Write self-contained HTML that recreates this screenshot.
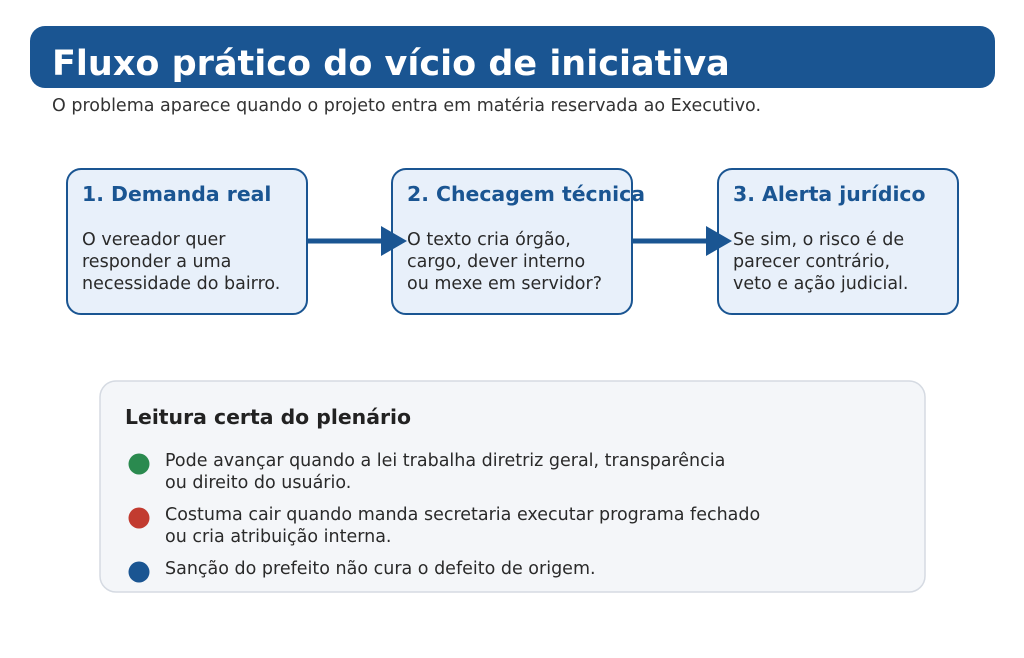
<!DOCTYPE html>
<html><head><meta charset="utf-8"><style>body{margin:0;background:#fff}svg{display:block}</style></head>
<body>
<svg width="1024" height="658" viewBox="0 0 1024 658" xmlns="http://www.w3.org/2000/svg" font-family="'DejaVu Sans','Liberation Sans',sans-serif">
<rect x="30" y="26" width="965" height="62" rx="15" fill="#1a5592"/>
<text x="52" y="75" font-size="35" font-weight="bold" fill="#fff">Fluxo prático do vício de iniciativa</text>
<text x="52" y="111" font-size="17.5" fill="#333">O problema aparece quando o projeto entra em matéria reservada ao Executivo.</text>
<g stroke="#1a5592" stroke-width="2" fill="#e8f0fa">
<rect x="67" y="169" width="240" height="145" rx="14"/>
<rect x="392" y="169" width="240" height="145" rx="14"/>
<rect x="718" y="169" width="240" height="145" rx="14"/>
</g>
<g stroke="#1a5592" stroke-width="5"><line x1="307" y1="241" x2="384" y2="241"/><line x1="632" y1="241" x2="709" y2="241"/></g>
<g fill="#1a5592"><polygon points="381,226 407,241 381,256"/><polygon points="706,226 732,241 706,256"/></g>
<g font-size="20.4" font-weight="bold" fill="#1a5592">
<text x="82" y="201">1. Demanda real</text>
<text x="407" y="201">2. Checagem técnica</text>
<text x="733" y="201">3. Alerta jurídico</text>
</g>
<g font-size="17.5" fill="#2a2a2a">
<text x="82" y="245">O vereador quer</text><text x="82" y="267">responder a uma</text><text x="82" y="289">necessidade do bairro.</text>
<text x="407" y="245">O texto cria órgão,</text><text x="407" y="267">cargo, dever interno</text><text x="407" y="289">ou mexe em servidor?</text>
<text x="733" y="245">Se sim, o risco é de</text><text x="733" y="267">parecer contrário,</text><text x="733" y="289">veto e ação judicial.</text>
</g>
<rect x="100" y="381" width="825" height="211" rx="16" fill="#f4f6f9" stroke="#d5dae2" stroke-width="1.5"/>
<text x="125" y="424" font-size="20.4" font-weight="bold" fill="#222">Leitura certa do plenário</text>
<circle cx="139" cy="464" r="10.5" fill="#2a8a4f"/>
<circle cx="139" cy="518" r="10.5" fill="#c23b30"/>
<circle cx="139" cy="572" r="10.5" fill="#1a5592"/>
<g font-size="17.5" fill="#2a2a2a">
<text x="165" y="466">Pode avançar quando a lei trabalha diretriz geral, transparência</text>
<text x="165" y="488">ou direito do usuário.</text>
<text x="165" y="520">Costuma cair quando manda secretaria executar programa fechado</text>
<text x="165" y="542">ou cria atribuição interna.</text>
<text x="165" y="574">Sanção do prefeito não cura o defeito de origem.</text>
</g>
</svg>
</body></html>
